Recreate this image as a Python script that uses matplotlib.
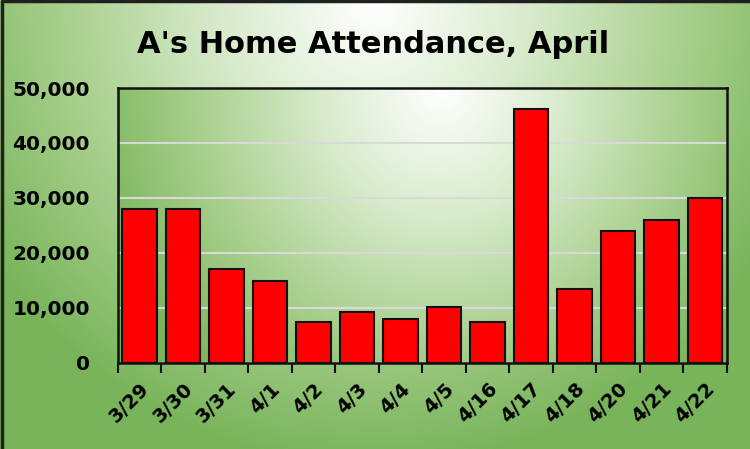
import numpy as np
import matplotlib.pyplot as plt
from matplotlib.colors import LinearSegmentedColormap

dates = ["3/29", "3/30", "3/31", "4/1", "4/2", "4/3", "4/4", "4/5",
         "4/16", "4/17", "4/18", "4/20", "4/21", "4/22"]
attendance = [27900, 27900, 17100, 14850, 7430, 9200, 8030, 10220,
              7430, 46170, 13390, 23900, 25910, 29930]
yticks = [0, 10000, 20000, 30000, 40000, 50000]
title = "A's Home Attendance, April"

green = LinearSegmentedColormap.from_list("g", ["#ffffff", "#d8ebcc", "#a9d08e", "#78b45a"])


def radial(cx, cy, rx, ry, n=300):
    x = np.linspace(0, 1, n)
    y = np.linspace(0, 1, n)
    X, Y = np.meshgrid(x, y)
    d = np.sqrt(((X - cx) / rx) ** 2 + ((Y - cy) / ry) ** 2)
    return np.clip(d, 0, 1)


fig = plt.figure(figsize=(7.5, 4.49), dpi=100)

# background of the whole chart
bg = fig.add_axes([0, 0, 1, 1], zorder=-10)
bg.imshow(radial(0.5, 0.0, 0.62, 1.05), cmap=green, vmin=0, vmax=1,
          extent=[0, 1, 0, 1], origin="upper", aspect="auto")
bg.set_xlim(0, 1)
bg.set_ylim(0, 1)
bg.axis("off")
# dark frame only on the left and top edges, as in the reference
bg.plot([0.002, 0.002, 1], [0, 0.997, 0.997], color="#202020", linewidth=2.5,
        transform=bg.transAxes, clip_on=False)

ax = fig.add_axes([0.157, 0.192, 0.812, 0.612])
ax.imshow(radial(0.53, 0.0, 0.6, 1.4), cmap=green, vmin=0, vmax=1,
          extent=[0, 1, 0, 1], origin="upper", aspect="auto",
          transform=ax.transAxes, zorder=0)

x = np.arange(len(dates))
ax.bar(x, attendance, width=0.8, color="#ff0000", edgecolor="#111111",
       linewidth=1.5, zorder=3)

ax.set_xlim(-0.5, len(dates) - 0.5)
ax.set_ylim(0, 50000)
ax.set_yticks(yticks)
ax.set_yticklabels([f"{v:,}" for v in yticks], fontsize=14.5, fontweight="bold")
ax.tick_params(axis="y", length=0, pad=20)
ax.yaxis.grid(True, color="#d9d9d9", linewidth=1.5, zorder=1)
ax.set_axisbelow(True)

ax.set_xticks(x)
ax.set_xticklabels(dates, rotation=45, ha="right", rotation_mode="anchor",
                   fontsize=14, fontweight="bold")
ax.tick_params(axis="x", which="major", length=0, pad=12)
ax.set_xticks(np.arange(len(dates) + 1) - 0.5, minor=True)
ax.tick_params(axis="x", which="minor", length=7, width=1.5, color="#111111")

for s in ax.spines.values():
    s.set_linewidth(1.8)
    s.set_color("#111111")

fig.text(0.497, 0.9, title, ha="center", va="center", fontsize=22,
         fontweight="bold")

fig.savefig("out.png", dpi=100)
